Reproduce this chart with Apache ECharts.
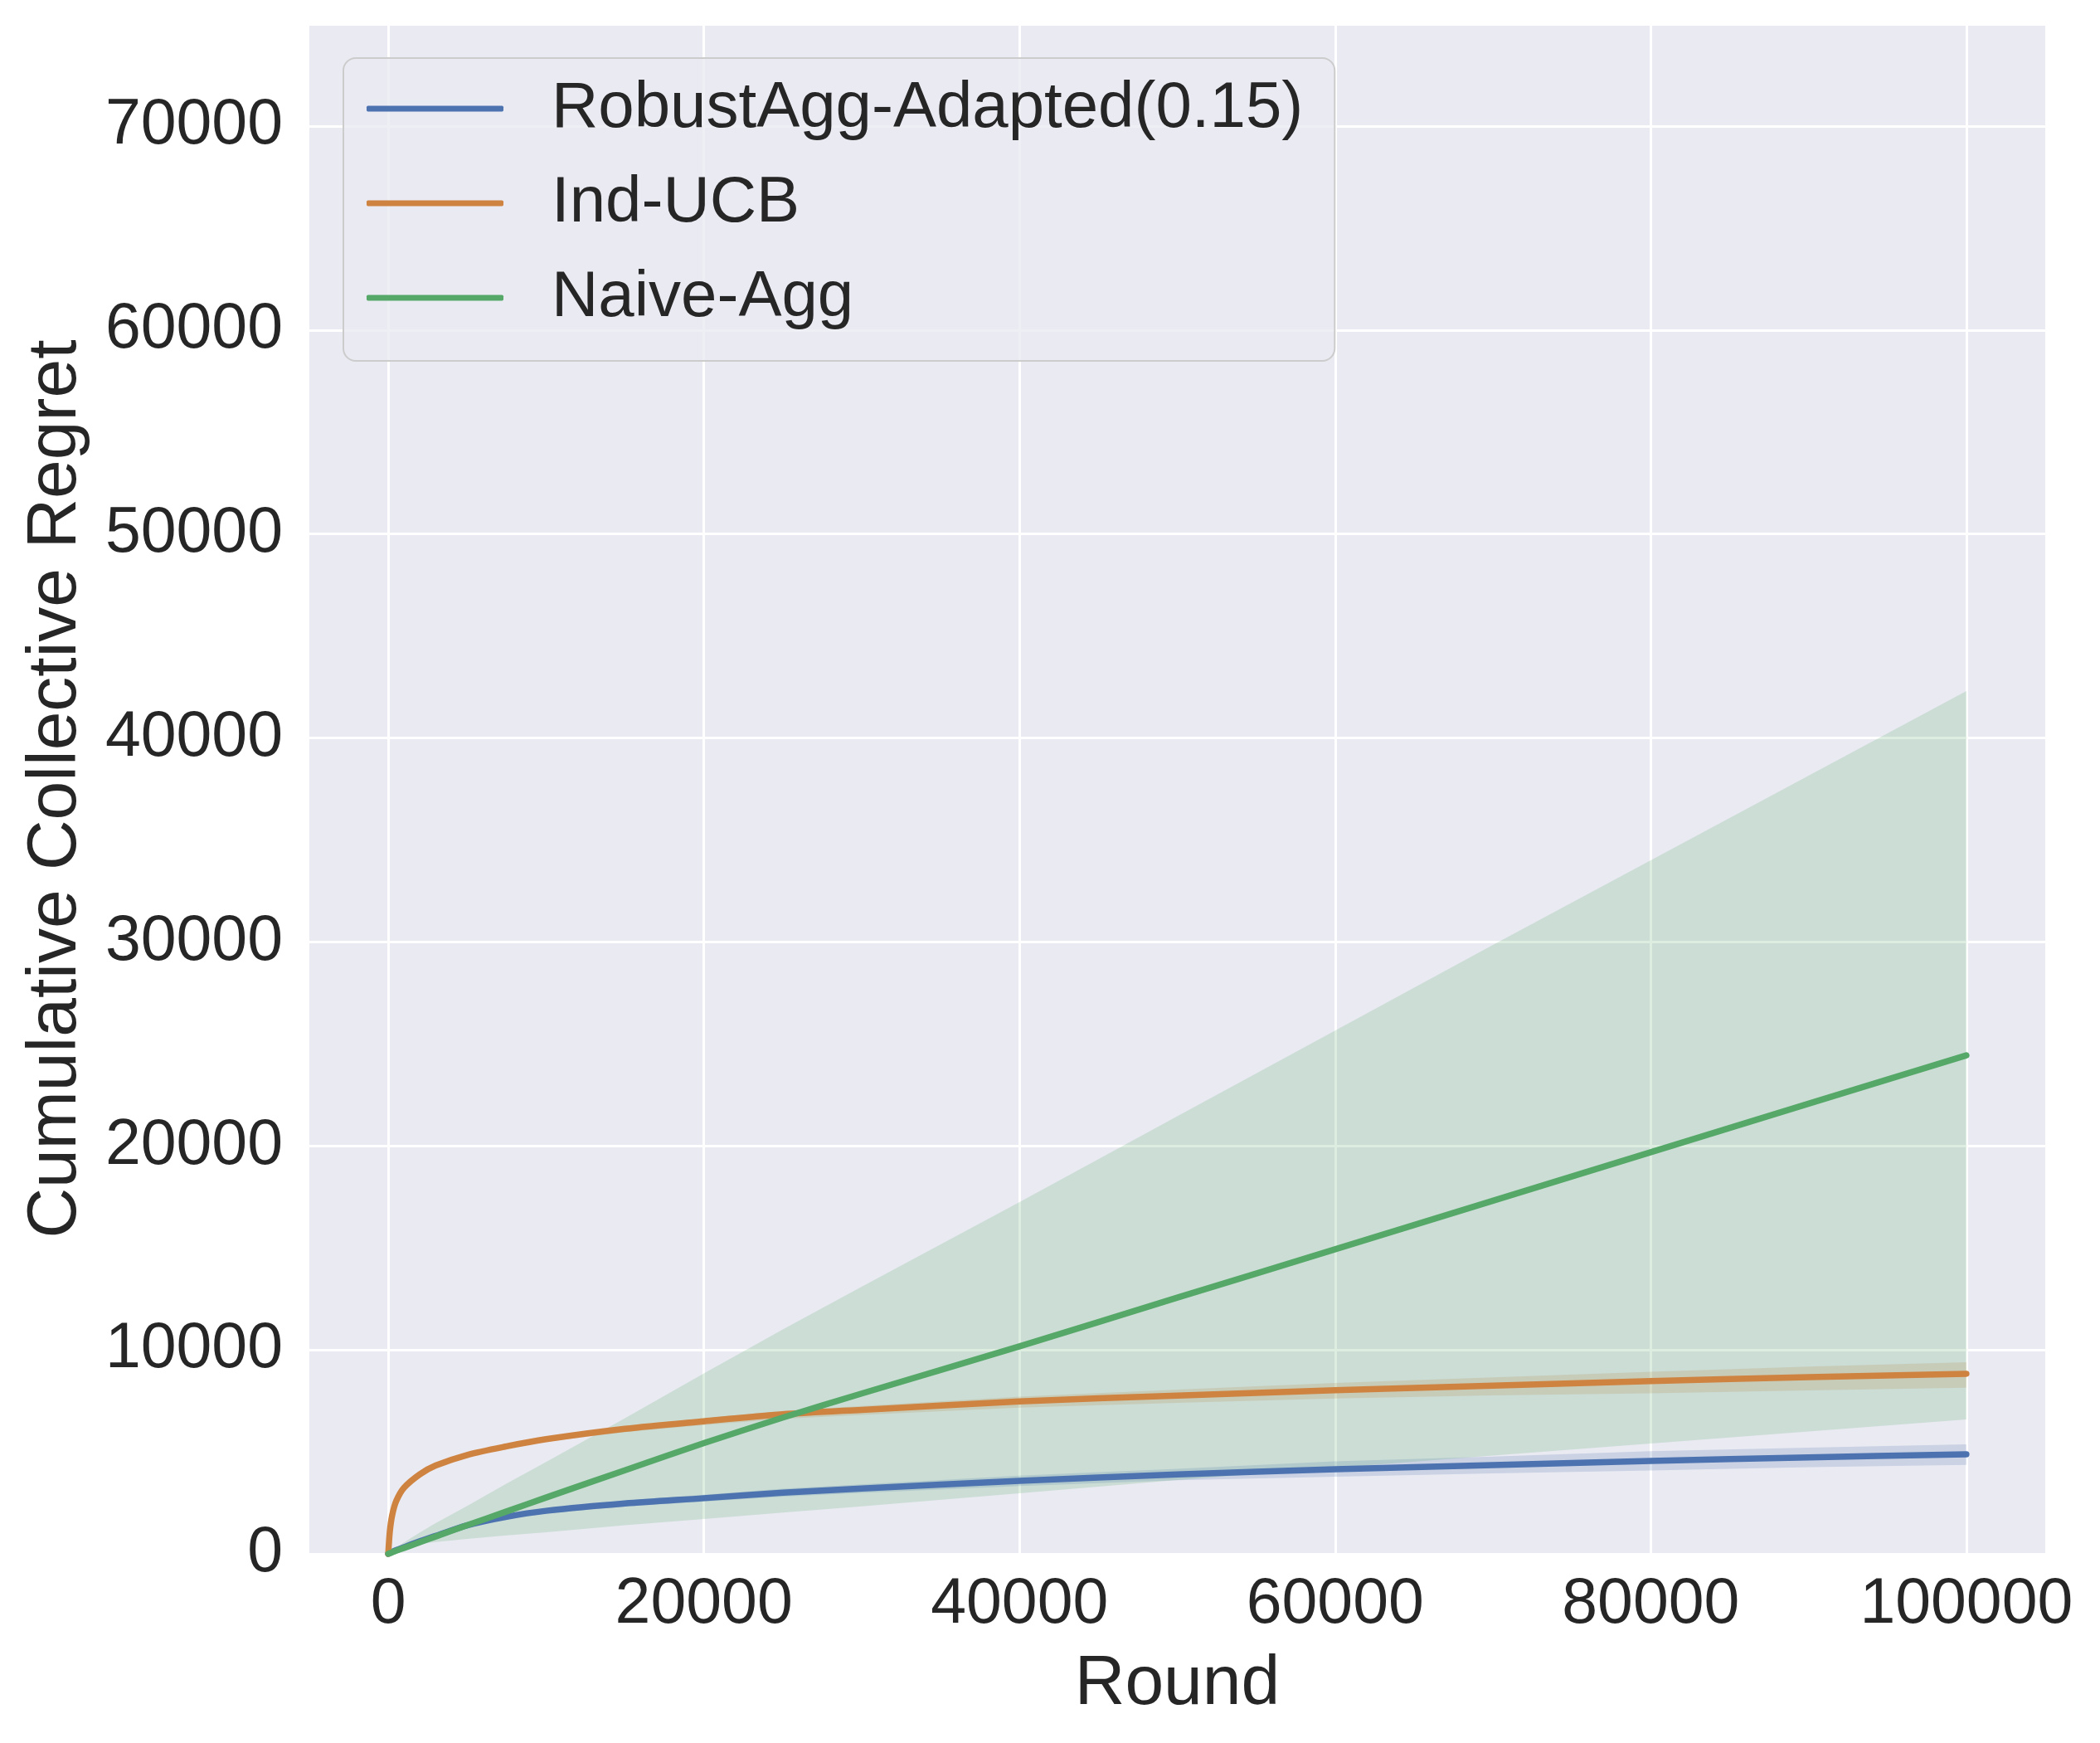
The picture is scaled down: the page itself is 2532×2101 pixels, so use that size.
<!DOCTYPE html>
<html><head><meta charset="utf-8">
<script src="https://cdn.jsdelivr.net/npm/echarts@6/dist/echarts.min.js"></script>
<style>html,body{margin:0;padding:0;background:#fff}#c{width:2532px;height:2101px}</style>
</head><body><div id="c"></div>
<script>
const rounds = [0,100,250,500,1000,2000,3000,5000,7500,10000,15000,20000,25000,30000,40000,50000,60000,70000,80000,90000,100000];

const robustMean  = [0,40,95,180,330,620,880,1400,1820,2110,2470,2730,3000,3200,3580,3890,4150,4350,4560,4730,4880];
const robustUpper = [0,50,110,205,370,680,960,1490,1930,2240,2620,2900,3190,3410,3830,4170,4530,4770,5030,5210,5370];
const robustLower = [0,30,80,155,290,560,800,1310,1710,1980,2320,2560,2810,2990,3330,3610,3780,3950,4090,4250,4360];

const indMean  = [0,1100,1900,2580,3240,3900,4330,4850,5270,5620,6130,6500,6840,7060,7470,7760,8020,8250,8470,8660,8830];
const indUpper = [0,1130,1940,2630,3300,3970,4410,4940,5370,5730,6260,6650,7010,7250,7710,8050,8380,8650,8930,9180,9400];
const indLower = [0,1070,1860,2530,3180,3830,4250,4760,5160,5490,5970,6310,6620,6810,7170,7400,7620,7770,7870,8010,8140];

const naiveMean  = [0,30,75,150,290,570,850,1400,2080,2760,4100,5430,6680,7860,10170,12560,14930,17310,19690,22070,24440];
const naiveUpper = [0,60,150,300,560,1050,1500,2350,3450,4500,6650,8850,11000,13100,17250,21450,25650,29850,34000,38150,42300];
const naiveLower = [0,20,50,100,200,480,580,730,900,1060,1400,1710,2020,2330,2970,3620,4220,4820,5410,6000,6590];

const xTicks = [0,20000,40000,60000,80000,100000];
const seriesNames = ['RobustAgg-Adapted(0.15)','Ind-UCB','Naive-Agg'];
const colors = ['#4C72B0','#CF8340','#55A868'];
const bandFills = ['rgba(76,114,176,0.2)','rgba(207,131,64,0.2)','rgba(85,168,104,0.2)'];

const FONT = '"Liberation Sans", Arial, sans-serif';
const TEXT = '#262626';

const groups = [
  [robustMean, robustUpper, robustLower],
  [indMean, indUpper, indLower],
  [naiveMean, naiveUpper, naiveLower]
];
const pts = arr => rounds.map((x,i)=>[x, arr[i]]);

const series = [];
groups.forEach((g,k)=>{
  const [m,u,l] = g;
  series.push({
    type:'custom', name: seriesNames[k]+' band', silent:true, clip:true, z:2,
    data: rounds.map((x,i)=>[x, u[i], l[i]]),
    encode:{x:0, y:[1,2]},
    renderItem: function(params, api){
      if (params.dataIndex !== 0) return null;
      const poly = [];
      for (let i=0;i<rounds.length;i++) poly.push(api.coord([rounds[i], u[i]]));
      for (let i=rounds.length-1;i>=0;i--) poly.push(api.coord([rounds[i], l[i]]));
      return {type:'polygon', shape:{points:poly}, style:{fill:bandFills[k], stroke:null}};
    }
  });
});
groups.forEach((g,k)=>{
  series.push({
    type:'line', name: seriesNames[k], data: pts(g[0]),
    symbol:'none', smooth:0.3,
    color: colors[k],
    lineStyle:{width:7.5, color:colors[k], cap:'round', join:'round'}, z:3
  });
});

const chart = echarts.init(document.getElementById('c'), null, {renderer:'canvas'});
chart.setOption({
  animation:false,
  backgroundColor:'#ffffff',
  grid:{left:373, top:29, right:66, bottom:228, show:true, backgroundColor:'#EAEAF2', borderWidth:0, containLabel:false},
  legend:{
    data: seriesNames, orient:'vertical', left:414, top:70,
    icon:'roundRect', itemWidth:165, itemHeight:7, itemGap:36,
    padding:[22,38,37,28],
    backgroundColor:'rgba(234,234,242,0.8)', borderColor:'#cccccc', borderWidth:2, borderRadius:15,
    textStyle:{fontSize:78, color:TEXT, fontFamily:FONT, lineHeight:78, padding:[0,0,0,53]},
    selectedMode:false
  },
  xAxis:{
    type:'value', min:-5000, max:105000,
    name:'Round', nameLocation:'middle', nameGap:116,
    nameTextStyle:{fontSize:84, color:TEXT, fontFamily:FONT},
    axisLine:{show:false},
    axisTick:{show:false, customValues: xTicks},
    axisLabel:{customValues: xTicks, fontSize:77, color:TEXT, fontFamily:FONT, margin:23, formatter: v => String(v)},
    splitLine:{show:true, lineStyle:{color:'#ffffff', width:3}}
  },
  yAxis:{
    type:'value', min:0, max:75000, interval:10000,
    name:'Cumulative Collective Regret', nameLocation:'middle', nameGap:263, nameRotate:90,
    nameTextStyle:{fontSize:84, color:TEXT, fontFamily:FONT},
    axisLine:{show:false}, axisTick:{show:false},
    axisLabel:{fontSize:77, color:TEXT, fontFamily:FONT, margin:32, showMaxLabel:false, formatter: v => String(v)},
    splitLine:{show:true, lineStyle:{color:'#ffffff', width:3}}
  },
  series: series
});
</script>
</body></html>
